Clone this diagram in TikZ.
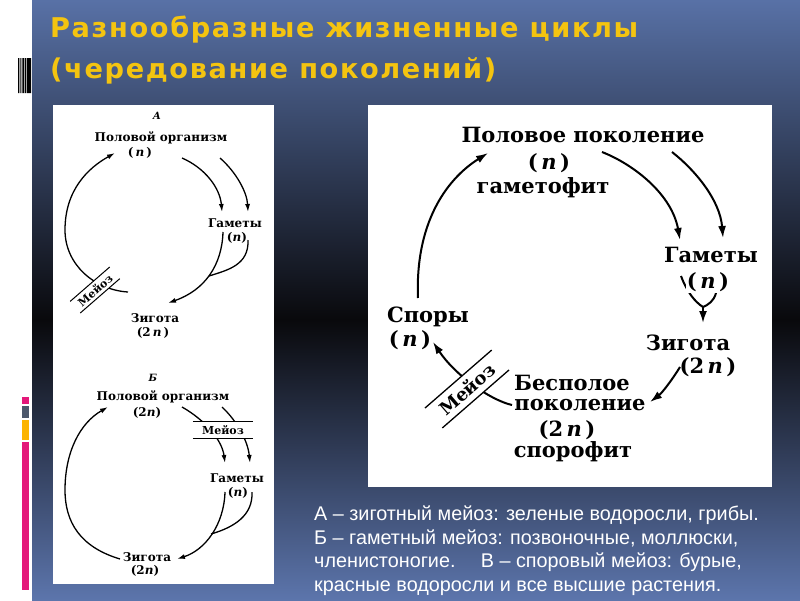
\documentclass[tikz,border=0pt]{standalone}
\usepackage{fontspec}
\setmainfont{DejaVu Serif}
\newfontfamily\titlefont[LetterSpace=6]{DejaVu Sans}
\newfontfamily\notefont{Liberation Sans}
\usetikzlibrary{arrows.meta}

\definecolor{titleyellow}{RGB}{244,196,16}
\definecolor{slidetop}{RGB}{88,113,166}
\definecolor{slidemid}{RGB}{9,9,12}
\definecolor{slidebot}{RGB}{92,117,172}
\definecolor{barpink}{RGB}{228,24,122}
\definecolor{bargray}{RGB}{76,88,108}
\definecolor{barorange}{RGB}{252,180,0}

\begin{document}
\begin{tikzpicture}[x=1pt,y=-1pt,
  small/.style={font=\bfseries\fontsize{12}{12}\selectfont,inner sep=1pt},
  large/.style={font=\bfseries\fontsize{21}{21}\selectfont,inner sep=1pt},
  tag/.style={font=\bfseries\itshape\fontsize{10}{10}\selectfont,inner sep=1pt},
  meioz/.style={fill=white,inner sep=0pt},
  thinarr/.style={line width=1.3pt,-{Latex[length=8pt,width=5pt]}},
  thickarr/.style={line width=2pt,-{Latex[length=12pt,width=8pt]}},
  title/.style={font=\titlefont\bfseries\fontsize{27.2}{27.2}\selectfont,text=titleyellow,anchor=base west,inner sep=0pt}]
  \useasboundingbox (0,0) rectangle (800,600);
  % slide background
  \fill[white] (0,0) rectangle (32,600);
  \shade[top color=slidetop,bottom color=slidemid] (32,0) rectangle (800,320);
  \shade[top color=slidemid,bottom color=slidebot] (32,320) rectangle (800,600);
  \fill[black] (18,58) rectangle (19.3,93) (20.3,58) rectangle (21.4,93)
    (22.4,58) rectangle (23.8,93) (24.6,58) rectangle (26,93) (26.8,58) rectangle (31,93);
  \fill[barpink] (22,397) rectangle (29,404);
  \fill[bargray] (22,406) rectangle (29,418);
  \fill[barorange] (22,420) rectangle (29,440);
  \fill[barpink] (22,442) rectangle (29,590);
  \fill[white] (53,105) rectangle (274,584);
  \fill[white] (368,105) rectangle (772,487);

  \node[title] (ttl1) at (50,37) {Разнообразные жизненные циклы};
  \node[title] (ttl2) at (50,78) {(чередование поколений)};

  % cycle A
  \node[tag] (tagA) at (157,116) {А};
  \node[small] (polA) at (161,138) {Половой организм};
  \node[small] (nA) at (140,153) {(\,\textit{n}\,)};
  \node[small] (gamA) at (235,223) {Гаметы};
  \node[small] (gnA) at (237,238) {(\textit{n})};
  \node[small] (zygA) at (155,318) {Зигота};
  \node[small] (znA) at (153,333) {(2\,\textit{n}\,)};
  \coordinate (a1) at (128,292);
  \coordinate (a2) at (115,153);
  \coordinate (a3) at (182,158);
  \coordinate (a4) at (222,212);
  \coordinate (a5) at (220,158);
  \coordinate (a6) at (248,212);
  \coordinate (a7) at (223,232);
  \coordinate (a8) at (168,303);
  \coordinate (a9) at (248,240);
  \coordinate (a10) at (209,276);
  \draw[thinarr] (a1) .. controls (95,290) and (65,265) .. (65,230)
    .. controls (65,190) and (88,168) .. (a2);
  \draw[thinarr] (a3) .. controls (205,168) and (220,188) .. (a4);
  \draw[thinarr] (a5) .. controls (236,172) and (247,192) .. (a6);
  \draw[thinarr] (a7) .. controls (222,265) and (205,290) .. (a8);
  \draw[line width=1.3pt] (a9) .. controls (249,265) and (228,270) .. (a10);
  \node[meioz,rotate=41,minimum width=52pt,minimum height=15pt,
    font=\bfseries\fontsize{11}{11}\selectfont] (mA) at (95,290) {Мейоз};
  \draw[line width=1pt] (mA.north west) -- (mA.north east)
    (mA.south west) -- (mA.south east);

  % cycle B
  \node[tag] (tagB) at (153,378) {Б};
  \node[small] (polB) at (163,397) {Половой организм};
  \node[small] (nB) at (147,413) {(2\textit{n})};
  \node[small] (gamB) at (237,478) {Гаметы};
  \node[small] (gnB) at (238,493) {(\textit{n})};
  \node[small] (zygB) at (147,557) {Зигота};
  \node[small] (znB) at (145,571) {(2\textit{n})};
  \coordinate (b1) at (120,559);
  \coordinate (b2) at (108,407);
  \coordinate (b3) at (182,407);
  \coordinate (b4) at (225,463);
  \coordinate (b5) at (222,407);
  \coordinate (b6) at (250,463);
  \coordinate (b7) at (225,492);
  \coordinate (b8) at (177,559);
  \coordinate (b9) at (252,492);
  \coordinate (b10) at (211,534);
  \draw[thinarr] (b1) .. controls (80,547) and (65,522) .. (65,490)
    .. controls (65,452) and (80,423) .. (b2);
  \draw[thinarr] (b3) .. controls (205,420) and (222,440) .. (b4);
  \draw[thinarr] (b5) .. controls (238,422) and (248,442) .. (b6);
  \draw[thinarr] (b7) .. controls (224,525) and (205,550) .. (b8);
  \draw[line width=1.3pt] (b9) .. controls (253,515) and (235,527) .. (b10);
  \node[meioz,minimum width=60pt,minimum height=16pt,
    font=\bfseries\fontsize{11}{11}\selectfont] (mB) at (223,430) {Мейоз};
  \draw[line width=1pt] (mB.north west) -- (mB.north east)
    (mB.south west) -- (mB.south east);

  % alternation of generations
  \node[large] (polR) at (583,135) {Половое поколение};
  \node[large] (nR) at (549,163) {(\,\textit{n}\,)};
  \node[large] (gamtR) at (543,188) {гаметофит};
  \node[large] (gamR) at (711,255) {Гаметы};
  \node[large] (zygR) at (688,343) {Зигота};
  \node[large] (znR) at (708,367) {(2\,\textit{n}\,)};
  \node[large] (besR) at (572,383) {Бесполое};
  \node[large] (pokR) at (580,405) {поколение};
  \node[large] (bnR) at (567,430) {(2\,\textit{n}\,)};
  \node[large] (sprR) at (573,452) {спорофит};
  \node[large] (sporR) at (428,317) {Споры};
  \node[large] (snR) at (410,340) {(\,\textit{n}\,)};
  \coordinate (r1) at (418,298);
  \coordinate (r2) at (488,153);
  \coordinate (r3) at (602,152);
  \coordinate (r4) at (680,240);
  \coordinate (r5) at (672,152);
  \coordinate (r6) at (723,238);
  \coordinate (r7) at (681,276);
  \coordinate (r8) at (716,293);
  \coordinate (r9) at (703,307);
  \coordinate (r10) at (703,323);
  \coordinate (r11) at (680,367);
  \coordinate (r12) at (650,402);
  \coordinate (r13) at (512,405);
  \coordinate (r14) at (433,342);
  \draw[thickarr] (r1) .. controls (415,225) and (445,180) .. (r2);
  \draw[thickarr] (r3) .. controls (635,165) and (672,195) .. (r4);
  \draw[thickarr] (r5) .. controls (695,170) and (720,200) .. (r6);
  \draw[line width=2pt] (r7) .. controls (687,292) and (695,302) .. (r9);
  \draw[line width=2pt] (r8) .. controls (714,301) and (708,305) .. (r9);
  \draw[thickarr] (r9) -- (r10);
  \node[large,fill=white] (gnR) at (708,282) {(\,\textit{n}\,)};
  \draw[thickarr] (r11) .. controls (672,380) and (662,393) .. (r12);
  \draw[thickarr] (r13) .. controls (490,400) and (455,375) .. (r14);
  \node[meioz,rotate=41,minimum width=88pt,minimum height=26pt,
    font=\bfseries\fontsize{18}{18}\selectfont] (mR) at (467,389) {Мейоз};
  \draw[line width=1.3pt] (mR.north west) -- (mR.north east)
    (mR.south west) -- (mR.south east);

  \node[anchor=base west,align=left,text=white,inner sep=0pt,
    font=\notefont\fontsize{19.8}{23.5}\selectfont] (note) at (314,591)
    {А – зиготный мейоз: зеленые водоросли, грибы.\\
     Б – гаметный мейоз: позвоночные, моллюски,\\
     членистоногие.\quad\ В – споровый мейоз: бурые,\\
     красные водоросли и все высшие растения.};
\end{tikzpicture}
\end{document}
